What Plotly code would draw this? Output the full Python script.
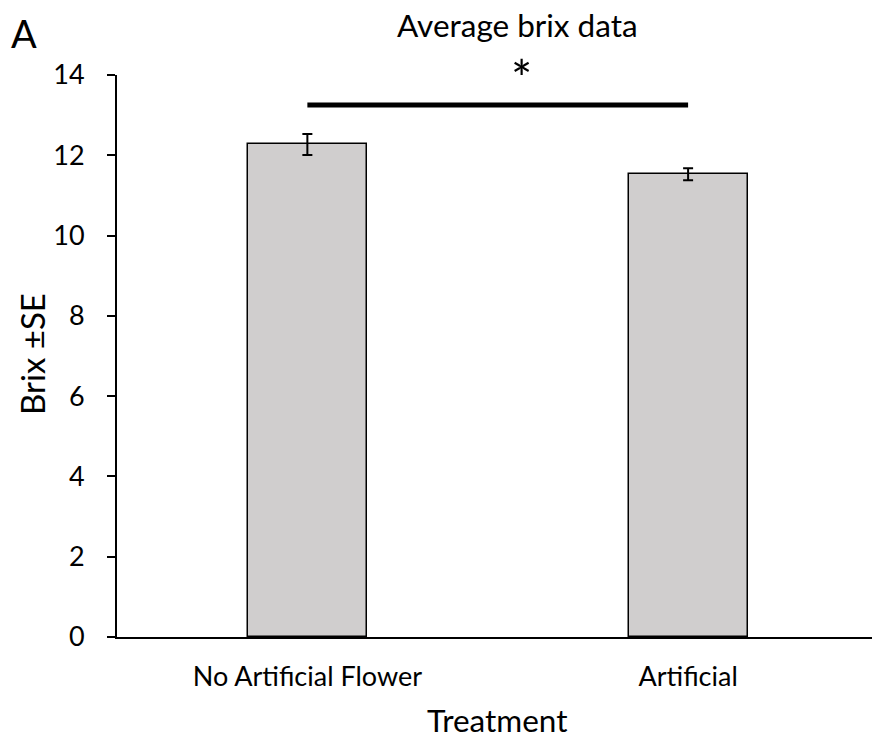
import plotly.graph_objects as go

# Treatment means of brix with standard errors
treatments = ["No Artificial Flower", "Artificial"]
brix_mean = [12.27, 11.53]
brix_se = [0.26, 0.15]

# Significance bracket between the two treatments
sig_level = 13.25
sig_label = "*"

W, H = 872, 740
L, R, T, B = 117, 0, 75, 103
plot_h = H - T - B

FONT = "Lato"


def py(pix):
    """Convert a pixel row (from the top) to a paper y coordinate."""
    return (H - B - pix) / plot_h


def px(pix):
    """Convert a pixel column to a paper x coordinate."""
    return (pix - L) / (W - L - R)


fig = go.Figure()
fig.add_trace(go.Bar(
    x=treatments,
    y=brix_mean,
    width=0.313,
    marker=dict(color="#d0cece", line=dict(color="black", width=1.5)),
    error_y=dict(type="data", array=brix_se, visible=True,
                 color="black", thickness=2, width=5),
))

# Significance line
fig.add_shape(type="line", xref="x", yref="y",
              x0=treatments[0], x1=treatments[1],
              y0=sig_level, y1=sig_level,
              line=dict(color="black", width=5))

annotations = [
    dict(text="Average brix data", x=px(517), y=py(25), font=dict(size=31.5)),
    dict(text="A", x=px(24), y=py(33), font=dict(size=38)),
    dict(text=sig_label, x=px(521), y=py(78), font=dict(size=50)),
    dict(text="Treatment", x=px(497), y=py(720), font=dict(size=31.5)),
    dict(text="Brix ±SE", x=px(32), y=py(354), font=dict(size=33), textangle=-90),
]
for a in annotations:
    a.update(xref="paper", yref="paper", showarrow=False,
             xanchor="center", yanchor="middle")
    a["font"].update(family=FONT, color="black")

fig.update_layout(
    width=W, height=H,
    margin=dict(l=L, r=R, t=T, b=B, pad=0),
    paper_bgcolor="white", plot_bgcolor="white",
    font=dict(family=FONT, color="black", size=27),
    showlegend=False,
    annotations=annotations,
    bargap=0,
)
fig.update_xaxes(
    type="category", range=[-0.5, 1.483],
    showline=True, linecolor="black", linewidth=2,
    ticks="", showgrid=False, zeroline=False,
    tickfont=dict(size=27), ticklabelstandoff=15,
)
fig.update_yaxes(
    range=[0, 14], dtick=2, tick0=0,
    showline=True, linecolor="black", linewidth=2,
    ticks="outside", ticklen=8, tickwidth=2, tickcolor="black",
    showgrid=False, zeroline=False,
    tickfont=dict(size=27), ticklabelstandoff=17,
)

fig.write_html("out.html")
